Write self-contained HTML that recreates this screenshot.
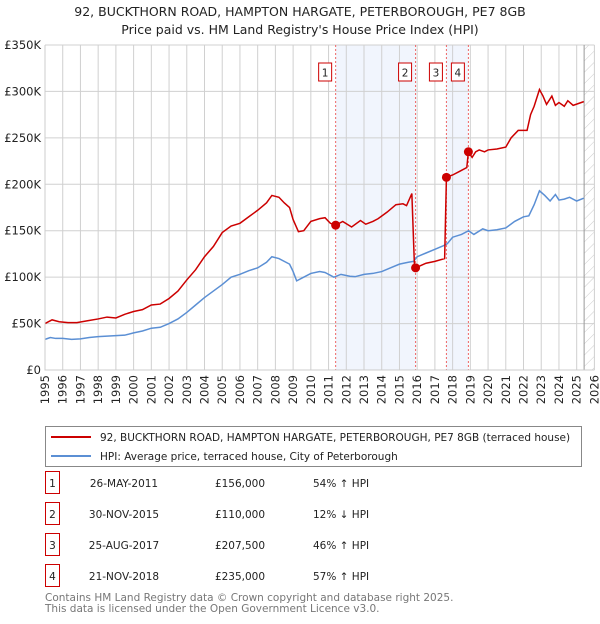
<!DOCTYPE html>
<html><head><meta charset="utf-8">
<style>
body{margin:0;background:#fff;width:600px;height:620px;overflow:hidden;font-family:"DejaVu Sans","Liberation Sans",sans-serif;}
svg text{font-family:"DejaVu Sans","Liberation Sans",sans-serif;}
</style></head>
<body>
<svg id="chart" width="600" height="620" xmlns="http://www.w3.org/2000/svg">
<text x="300" y="16" text-anchor="middle" font-size="12.5" fill="#222">92, BUCKTHORN ROAD, HAMPTON HARGATE, PETERBOROUGH, PE7 8GB</text>
<text x="300" y="34" text-anchor="middle" font-size="12.5" fill="#222">Price paid vs. HM Land Registry's House Price Index (HPI)</text>
<g id="grid"></g>
<g id="marks"></g>
<g id="axes"></g>
<g>
<rect x="45.5" y="426.5" width="536" height="40" fill="#fff" stroke="#888"/>
<line x1="51" y1="437" x2="91" y2="437" stroke="#cc0000" stroke-width="2"/>
<text x="100" y="441" font-size="10.5" fill="#222">92, BUCKTHORN ROAD, HAMPTON HARGATE, PETERBOROUGH, PE7 8GB (terraced house)</text>
<line x1="51" y1="456" x2="91" y2="456" stroke="#5b8fd4" stroke-width="2"/>
<text x="100" y="460" font-size="10.5" fill="#222">HPI: Average price, terraced house, City of Peterborough</text>
</g>
<g id="table"></g>
<text x="45" y="601" font-size="10.5" fill="#777">Contains HM Land Registry data © Crown copyright and database right 2025.</text>
<text x="45" y="612" font-size="10.5" fill="#777">This data is licensed under the Open Government Licence v3.0.</text>
</svg>
<script>
const yTicks=[0,50000,100000,150000,200000,250000,300000,350000];
const yTickLabels=["£0","£50K","£100K","£150K","£200K","£250K","£300K","£350K"];
const years=[1995,1996,1997,1998,1999,2000,2001,2002,2003,2004,2005,2006,2007,2008,2009,2010,2011,2012,2013,2014,2015,2016,2017,2018,2019,2020,2021,2022,2023,2024,2025,2026];
const hpiT=[1995,1995.3,1995.6,1996,1996.5,1997,1997.5,1998,1998.5,1999,1999.5,2000,2000.5,2001,2001.5,2002,2002.5,2003,2003.5,2004,2004.5,2005,2005.5,2006,2006.5,2007,2007.5,2007.8,2008.2,2008.5,2008.8,2009.0,2009.2,2009.5,2010,2010.5,2010.8,2011.3,2011.7,2012.2,2012.5,2013,2013.5,2014,2014.5,2015,2015.5,2015.8,2016,2016.5,2017,2017.5,2017.7,2018,2018.5,2018.9,2019.2,2019.7,2020,2020.5,2021,2021.5,2022,2022.3,2022.6,2022.9,2023.2,2023.5,2023.8,2024,2024.3,2024.6,2025,2025.4];
const hpiV=[33000,35000,34000,34000,33000,33500,35000,36000,36500,37000,37500,40000,42000,45000,46000,50000,55000,62000,70000,78000,85000,92000,100000,103000,107000,110000,116000,122000,120000,117000,114000,106000,96000,99000,104000,106000,105000,100000,103000,101000,100500,103000,104000,106000,110000,114000,116000,117000,122000,126000,130000,134000,136000,143000,146000,150000,146000,152000,150000,151000,153000,160000,165000,166000,178000,193000,188000,182000,189000,183000,184000,186000,182000,185000];
const priceT=[1995,1995.4,1995.8,1996.3,1996.8,1997.4,1998,1998.5,1999,1999.5,2000,2000.5,2001,2001.5,2002,2002.5,2003,2003.5,2004,2004.5,2005,2005.5,2006,2006.5,2007,2007.5,2007.8,2008.2,2008.5,2008.8,2009.0,2009.3,2009.6,2010,2010.5,2010.8,2011.1,2011.4,2011.8,2012.3,2012.8,2013.1,2013.5,2013.8,2014.3,2014.8,2015.2,2015.4,2015.7,2015.85,2015.91,2016.5,2017.0,2017.55,2017.65,2018.0,2018.4,2018.8,2018.89,2019.1,2019.3,2019.5,2019.8,2020.0,2020.5,2021.0,2021.3,2021.7,2022.2,2022.4,2022.6,2022.9,2023.1,2023.3,2023.6,2023.8,2024.0,2024.3,2024.5,2024.8,2025.1,2025.4];
const priceV=[50000,54000,52000,51000,51000,53000,55000,57000,56000,60000,63000,65000,70000,71000,77000,85000,97000,108000,122000,133000,148000,155000,158000,165000,172000,180000,188000,186000,180000,175000,162000,149000,150000,160000,163000,164000,158000,156000,160000,154000,161000,157000,160000,163000,170000,178000,179000,177000,190000,110000,110000,115000,117000,120000,207500,210000,214000,218000,235000,229000,235000,237000,235000,237000,238000,240000,250000,258000,258000,275000,284000,302000,295000,286000,295000,285000,288000,284000,290000,285000,287000,289000];
const saleT=[2011.4,2015.91,2017.65,2018.89];
const saleV=[156000,110000,207500,235000];
const saleLabels=["1","2","3","4"];
const saleDates=["26-MAY-2011","30-NOV-2015","25-AUG-2017","21-NOV-2018"];
const salePrices=["£156,000","£110,000","£207,500","£235,000"];
const saleHpi=["54% ↑ HPI","12% ↓ HPI","46% ↑ HPI","57% ↑ HPI"];

const L=45,R=594.4,T=45,B=370,x0=1995,x1=2026,yMax=350000;
const X=t=>L+(t-x0)/(x1-x0)*(R-L);
const Y=v=>B-v/yMax*(B-T);
const NS="http://www.w3.org/2000/svg";
function mk(tag,attrs,parent){const e=document.createElementNS(NS,tag);for(const k in attrs)e.setAttribute(k,attrs[k]);parent.appendChild(e);return e;}
const grid=document.getElementById('grid'),marks=document.getElementById('marks'),axes=document.getElementById('axes'),table=document.getElementById('table');

let s1=mk('rect',{x:X(saleT[0]),y:T,width:X(saleT[1])-X(saleT[0]),height:B-T,fill:'#eef3fc',opacity:0.8},grid);


let s2=mk('rect',{x:X(saleT[2]),y:T,width:X(saleT[3])-X(saleT[2]),height:B-T,fill:'#eef3fc',opacity:0.8},grid);


const hx=X(2025.42);
let defs=mk('defs',{},grid);
let pat=mk('pattern',{id:'hatch',width:8,height:8,patternUnits:'userSpaceOnUse',patternTransform:'rotate(45)'},defs);
mk('line',{x1:0,y1:0,x2:0,y2:8,stroke:'#ccc','stroke-width':1},pat);
let hr=mk('rect',{x:hx,y:T,width:R-hx,height:B-T,fill:'url(#hatch)'},grid);



years.forEach(y=>{
  let g=mk('line',{x1:X(y),y1:T,x2:X(y),y2:B,stroke:'#d0d0d0','stroke-width':1},grid);
  
  
  let t=mk('text',{x:0,y:0,'font-size':11.5,fill:'#222','text-anchor':'end',transform:`translate(${X(y)+4},${B+5}) rotate(-90)`},axes);
  t.textContent=y;
  
  
});
yTicks.forEach((v,i)=>{
  let g=mk('line',{x1:L,y1:Y(v),x2:R,y2:Y(v),stroke:'#d0d0d0','stroke-width':1},grid);
  
  
  let t=mk('text',{x:L-4,y:Y(v)+4,'font-size':11.5,fill:'#222','text-anchor':'end'},axes);
  t.textContent=yTickLabels[i];
  
  
});
let fl=mk('line',{x1:hx,y1:T,x2:hx,y2:B,stroke:'#999','stroke-width':1},grid);


let ax=mk('path',{d:`M${L},${T}V${B}H${R}`,fill:'none',stroke:'#ccc'},axes);



saleT.forEach((t,i)=>{
  let l=mk('line',{x1:X(t),y1:T,x2:X(t),y2:B,stroke:'#e66','stroke-width':1,'stroke-dasharray':'2,2'},marks);
  
  
  let b=mk('rect',{x:X(t)-17,y:63,width:13,height:18,fill:'#fff',stroke:'#cc0000'},marks);
  
  
  let tx=mk('text',{x:X(t)-10.5,y:76.5,'font-size':10.5,'text-anchor':'middle',fill:'#222'},marks);
  tx.textContent=saleLabels[i];
  
  
});
let hp=mk('polyline',{points:hpiT.map((t,i)=>X(t)+','+Y(hpiV[i])).join(' '),fill:'none',stroke:'#5b8fd4','stroke-width':1.5},marks);


let pl=mk('polyline',{points:priceT.map((t,i)=>X(t)+','+Y(priceV[i])).join(' '),fill:'none',stroke:'#cc0000','stroke-width':1.5},marks);


saleT.forEach((t,i)=>{
  let c=mk('circle',{cx:X(t),cy:Y(saleV[i]),r:4.5,fill:'#cc0000'},marks);
  
  
});

const rowY=[484,515,546,577];
saleLabels.forEach((s,i)=>{
  const y=rowY[i];
  let b=mk('rect',{x:45.5,y:y-12.5,width:14,height:22,fill:'#fff',stroke:'#cc0000'},table);
  
  
  const cells=[[52.5,s,'middle','num'],[124,saleDates[i],'middle','date'],[240,salePrices[i],'middle','price'],[313,saleHpi[i],'start','hpi']];
  cells.forEach(c=>{
    let t=mk('text',{x:c[0],y:y+3,'font-size':10.5,'text-anchor':c[2],fill:'#222'},table);
    t.textContent=c[1];
    
    
  });
});
</script>
</body></html>
